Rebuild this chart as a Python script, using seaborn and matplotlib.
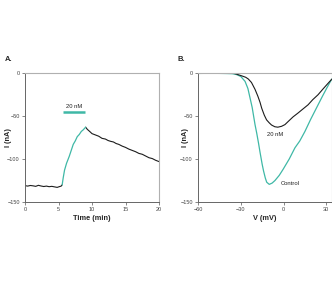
import matplotlib
matplotlib.use("Agg")
import matplotlib.pyplot as plt
import seaborn as sns

sns.set_style("ticks")
plt.rcParams["font.family"] = ["Liberation Sans", "DejaVu Sans"]

TEAL = "#3fb8a6"
DARK = "#1c1c1c"

# Panel A: current vs time
time_pre = [0, 0.4, 0.8, 1.2, 1.6, 2.0, 2.4, 2.8, 3.2, 3.6, 4.0, 4.4, 4.8, 5.1, 5.4, 5.55]
curr_pre = [-131, -131.5, -130.8, -131.2, -131.8, -130.6, -131.4, -132, -131.5, -132.2, -131.8, -132.4, -133, -132.2, -131.5, -130]
time_drug = [5.55, 5.7, 5.9, 6.2, 6.6, 6.9, 7.2, 7.5, 7.8, 8.1, 8.4, 8.7, 9.05]
curr_drug = [-130, -122, -113, -105, -97, -90, -83, -79, -74, -71.5, -68, -66, -63]
time_post = [9.05, 9.3, 9.66, 10.0, 10.5, 11.0, 11.5, 12.0, 12.4, 12.8, 13.2, 13.6, 14.0, 14.5, 15.0,
             15.5, 16.0, 16.5, 17.0, 17.5, 18.0, 18.5, 19.0, 19.5, 20.0]
curr_post = [-63, -65.5, -68, -70.5, -72, -73.5, -76, -76.8, -78.5, -79.5, -80.2, -82, -83, -85, -86.5,
             -88.5, -90, -91.5, -93.5, -94.5, -96.5, -98.5, -99.5, -101.5, -103]
bar_time = [5.67, 8.9]
bar_curr = -45.7

# Panel B: current vs voltage
volt_ctrl = [-60, -50, -40, -36, -33, -30, -27, -25, -23.5, -22, -21, -20, -18.8, -17.5, -16.5, -15,
             -14, -12.8, -11.8, -10, -8, -6, -3, -0.3, 4, 8, 11.4, 15, 19, 23, 27, 30.5, 33.5, 34]
curr_ctrl = [-0.5, -0.3, -0.6, -0.8, -1.8, -4, -9.7, -18, -29, -40, -50, -60, -70, -82, -92, -106,
             -114, -122, -127, -129.5, -128, -125, -119, -112, -100, -87, -79, -68, -54, -41, -28, -17, -8, -7]
volt_drug = [-60, -56, -52, -48, -44, -40, -37, -34, -31.7, -29, -26.5, -24.7, -22.5, -20, -18, -16.5,
             -15.3, -13.5, -11.9, -10, -8.4, -6.1, -4, -1.4, 1, 3.2, 6.7, 10.2, 13.5, 17.2, 20.5, 24.2,
             28, 32.3, 34]
curr_drug_iv = [0.8, 0.5, 1.2, 0.6, 1.0, 0.4, 0.2, -0.8, -2, -3.5, -5, -7, -11, -19, -27, -34,
                -41, -49, -54.5, -58, -60.5, -62.5, -63, -62, -60, -56.5, -51, -46.5, -42, -37, -31, -25.3,
                -18, -10, -7]

fig = plt.figure(figsize=(3.32, 2.84), dpi=100)
axA = fig.add_axes([25 / 332, 1 - 202 / 284, 134 / 332, 129 / 284])
axB = fig.add_axes([198 / 332, 1 - 202 / 284, 134 / 332, 129 / 284])

sns.lineplot(x=time_pre, y=curr_pre, ax=axA, color=DARK, lw=0.8, estimator=None)
sns.lineplot(x=time_post, y=curr_post, ax=axA, color=DARK, lw=0.8, estimator=None)
sns.lineplot(x=time_drug, y=curr_drug, ax=axA, color=TEAL, lw=0.9, estimator=None)
axA.plot(bar_time, [bar_curr, bar_curr], color=TEAL, lw=1.8, solid_capstyle="butt")
axA.text(sum(bar_time) / 2, -39.5, "20 nM", fontsize=4.2, ha="center", va="center", color="#222")
axA.set_xlim(0, 20)
axA.set_ylim(-150, 0)
axA.set_xticks([0, 5, 10, 15, 20])
axA.set_yticks([-150, -100, -50, 0])
axA.set_xlabel("Time (min)", fontsize=5.3, fontweight="bold", labelpad=2)
axA.set_ylabel("I (nA)", fontsize=5.3, fontweight="bold")
axA.yaxis.set_label_coords(-0.095, 0.5)

sns.lineplot(x=volt_ctrl, y=curr_ctrl, ax=axB, color=TEAL, lw=0.9, estimator=None, sort=False)
sns.lineplot(x=volt_drug, y=curr_drug_iv, ax=axB, color=DARK, lw=0.8, estimator=None, sort=False)
axB.text(-6, -72, "20 nM", fontsize=4.2, ha="center", va="center", color="#222")
axB.text(-1.8, -128, "Control", fontsize=4.2, ha="left", va="center", color="#222")
axB.set_xlim(-60, 34)
axB.set_ylim(-150, 0)
axB.set_xticks([-60, -30, 0, 30])
axB.set_yticks([-150, -100, -50, 0])
axB.set_xlabel("V (mV)", fontsize=5.3, fontweight="bold", labelpad=2)
axB.set_ylabel("I (nA)", fontsize=5.3, fontweight="bold")
axB.yaxis.set_label_coords(-0.07, 0.5)

for ax in (axA, axB):
    ax.tick_params(labelsize=4, length=2.2, width=0.5, pad=1.5, colors="#555", labelcolor="#444")
    for side in ("left", "bottom"):
        ax.spines[side].set_color("#666")
        ax.spines[side].set_linewidth(0.7)
    for side in ("top", "right"):
        ax.spines[side].set_visible(True)
        ax.spines[side].set_color("#b0b0b0")
        ax.spines[side].set_linewidth(0.8)

fig.text(5 / 332, 1 - 60 / 284, "A.", fontsize=5.5, fontweight="bold", va="center")
fig.text(177 / 332, 1 - 60 / 284, "B.", fontsize=5.5, fontweight="bold", va="center")

fig.savefig("out.png", dpi=100, facecolor="white")
